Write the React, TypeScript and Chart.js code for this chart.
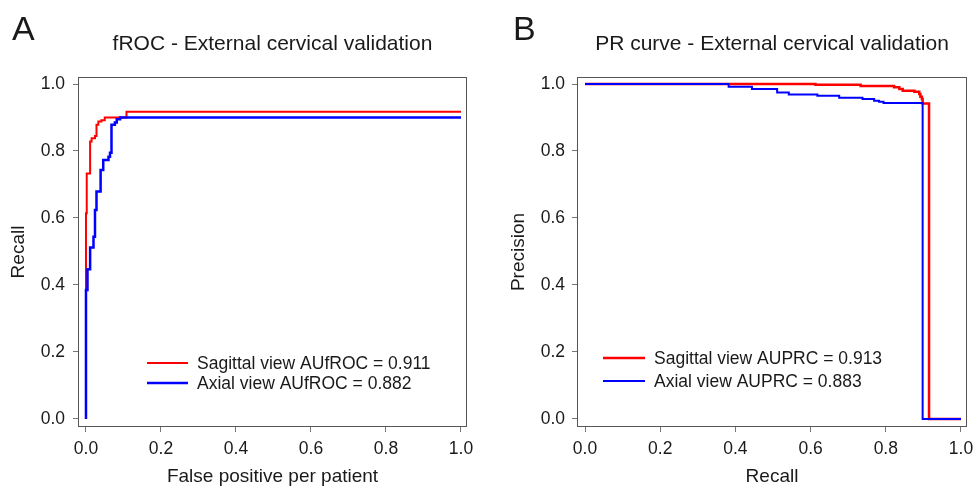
import React, { useEffect, useRef } from "react";
import { Chart, registerables } from "chart.js";

Chart.register(...registerables);

const FONT = '"Liberation Sans", Arial, Helvetica, sans-serif';
const TEXT = "#1a1a1a";

const tickValues = [0, 0.2, 0.4, 0.6, 0.8, 1.0];

// Panel A: fROC curve
const frocSagittalFp = [0, 0, 0.002, 0.011, 0.015, 0.024, 0.028, 0.033, 0.041, 0.05, 0.108, 1.0];
const frocSagittalRecall = [0, 0.614, 0.733, 0.828, 0.838, 0.845, 0.878, 0.888, 0.892, 0.9, 0.917, 0.917];
const frocAxialFp = [0, 0, 0.004, 0.011, 0.02, 0.024, 0.028, 0.039, 0.046, 0.06, 0.064, 0.068, 0.077, 0.082, 0.091, 1.0];
const frocAxialRecall = [0, 0.385, 0.447, 0.512, 0.544, 0.624, 0.679, 0.743, 0.773, 0.783, 0.795, 0.878, 0.885, 0.895, 0.9, 0.9];

// Panel B: PR curve
const prSagittalRecall = [0, 0.613, 0.733, 0.822, 0.836, 0.845, 0.876, 0.889, 0.892, 0.896, 0.898, 0.915, 1.0];
const prSagittalPrecision = [1.0, 0.998, 0.994, 0.99, 0.985, 0.98, 0.977, 0.97, 0.962, 0.955, 0.942, 0, 0];
const prAxialRecall = [0, 0.382, 0.444, 0.511, 0.542, 0.618, 0.676, 0.738, 0.769, 0.782, 0.794, 0.898, 1.0];
const prAxialPrecision = [1.0, 0.992, 0.985, 0.975, 0.969, 0.965, 0.959, 0.955, 0.95, 0.947, 0.943, 0, 0];

const legendA = ["Sagittal view AUfROC = 0.911", "Axial view AUfROC = 0.882"];
const legendB = ["Sagittal view AUPRC = 0.913", "Axial view AUPRC = 0.883"];

const RED = "#ff0000";
const BLUE = "#0000ff";

function pts(xs: number[], ys: number[]) {
  return xs.map((x, i) => ({ x, y: ys[i] }));
}

interface PanelSpec {
  letter: string;
  title: string;
  xTitle: string;
  yTitle: string;
  legend: string[];
  red: { x: number; y: number }[];
  blue: { x: number; y: number }[];
  yAxisWidth: number;
  yTitlePad: number;
  yTickPad: number;
  rightPad: number;
  letterX: number;
  legendLine: [number, number];
  legendText: number;
  legendY: [number, number];
  redWidth: number;
  blueWidth: number;
}

function makeChart(canvas: HTMLCanvasElement, p: PanelSpec) {
  const decor = {
    id: "decor",
    afterDraw(chart: any) {
      const { ctx, chartArea: a } = chart;
      ctx.save();
      ctx.strokeStyle = "#555";
      ctx.lineWidth = 1;
      ctx.strokeRect(a.left + 0.5, a.top + 0.5, a.right - a.left - 1, a.bottom - a.top - 1);

      ctx.fillStyle = TEXT;
      ctx.textAlign = "left";
      ctx.textBaseline = "alphabetic";
      ctx.font = `34px ${FONT}`;
      ctx.fillText(p.letter, p.letterX, 40);

      ctx.textAlign = "center";
      ctx.font = `21px ${FONT}`;
      ctx.fillText(p.title, (a.left + a.right) / 2, 50);

      const colors = [RED, BLUE];
      const widths = [p.redWidth, p.blueWidth];
      ctx.font = `17.5px ${FONT}`;
      ctx.textAlign = "left";
      ctx.textBaseline = "middle";
      p.legend.forEach((txt, i) => {
        const y = a.bottom - p.legendY[i];
        ctx.strokeStyle = colors[i];
        ctx.lineWidth = widths[i];
        ctx.beginPath();
        ctx.moveTo(a.left + p.legendLine[0], y);
        ctx.lineTo(a.left + p.legendLine[1], y);
        ctx.stroke();
        ctx.fillStyle = TEXT;
        ctx.fillText(txt, a.left + p.legendText, y + 1);
      });
      ctx.restore();
    },
  };

  const tickFont = { family: FONT, size: 17.5 };
  const titleFont = { family: FONT, size: 19 };
  const setTicks = (s: any) => {
    s.ticks = tickValues.map((v) => ({ value: v }));
  };

  return new Chart(canvas, {
    type: "line",
    data: {
      datasets: [
        {
          label: p.legend[0],
          data: p.red,
          borderColor: RED,
          borderWidth: p.redWidth,
          pointRadius: 0,
          stepped: true,
          fill: false,
          order: 1,
        },
        {
          label: p.legend[1],
          data: p.blue,
          borderColor: BLUE,
          borderWidth: p.blueWidth,
          pointRadius: 0,
          stepped: true,
          fill: false,
          order: 0,
        },
      ],
    },
    options: {
      responsive: false,
      devicePixelRatio: 1,
      animation: false,
      events: [],
      layout: { autoPadding: false, padding: { top: 77, right: p.rightPad, bottom: 0, left: 0 } },
      plugins: { legend: { display: false }, tooltip: { enabled: false } },
      scales: {
        x: {
          type: "linear",
          min: -0.0213,
          max: 1.016,
          afterBuildTicks: setTicks,
          afterFit: (s: any) => {
            s.height = 61;
            s.paddingLeft = 0;
            s.paddingRight = 0;
          },
          ticks: {
            callback: (v: any) => Number(v).toFixed(1),
            font: tickFont,
            color: TEXT,
            padding: 7,
            maxRotation: 0,
            autoSkip: false,
          },
          grid: { drawOnChartArea: false, drawTicks: true, tickLength: 5, color: "#777" },
          border: { display: false },
          title: { display: true, text: p.xTitle, font: titleFont, color: TEXT, padding: { top: 0, bottom: 0 } },
        },
        y: {
          type: "linear",
          min: -0.0239,
          max: 1.0209,
          afterBuildTicks: setTicks,
          afterFit: (s: any) => {
            s.width = p.yAxisWidth;
            s.paddingTop = 0;
            s.paddingBottom = 0;
          },
          ticks: {
            callback: (v: any) => Number(v).toFixed(1),
            font: tickFont,
            color: TEXT,
            padding: p.yTickPad,
            autoSkip: false,
          },
          grid: { drawOnChartArea: false, drawTicks: true, tickLength: 5, color: "#777" },
          border: { display: false },
          title: { display: true, text: p.yTitle, font: titleFont, color: TEXT, padding: { top: p.yTitlePad, bottom: 0 } },
        },
      },
    },
    plugins: [decor],
  } as any);
}

export default function App() {
  const refA = useRef<HTMLCanvasElement>(null);
  const refB = useRef<HTMLCanvasElement>(null);

  useEffect(() => {
    const a = makeChart(refA.current!, {
      letter: "A",
      title: "fROC - External cervical validation",
      xTitle: "False positive per patient",
      yTitle: "Recall",
      legend: legendA,
      red: pts(frocSagittalFp, frocSagittalRecall),
      blue: pts(frocAxialFp, frocAxialRecall),
      yAxisWidth: 78,
      yTitlePad: 7,
      yTickPad: 8,
      rightPad: 19,
      letterX: 12,
      legendLine: [69, 110],
      legendText: 119,
      legendY: [64, 44],
      redWidth: 2,
      blueWidth: 2.5,
    });
    const b = makeChart(refB.current!, {
      letter: "B",
      title: "PR curve - External cervical validation",
      xTitle: "Recall",
      yTitle: "Precision",
      legend: legendB,
      red: pts(prSagittalRecall, prSagittalPrecision),
      blue: pts(prAxialRecall, prAxialPrecision),
      yAxisWidth: 90,
      yTitlePad: 20,
      yTickPad: 7,
      rightPad: 6,
      letterX: 26,
      legendLine: [26, 68],
      legendText: 77,
      legendY: [69, 46],
      redWidth: 2.5,
      blueWidth: 2,
    });
    return () => {
      a.destroy();
      b.destroy();
    };
  }, []);

  return (
    <div style={{ position: "absolute", left: 0, top: 0, width: 973, height: 488, background: "#fff", overflow: "hidden" }}>
      <canvas ref={refA} width={486} height={488} style={{ position: "absolute", left: 0, top: 0 }} />
      <canvas ref={refB} width={486} height={488} style={{ position: "absolute", left: 487, top: 0 }} />
    </div>
  );
}
